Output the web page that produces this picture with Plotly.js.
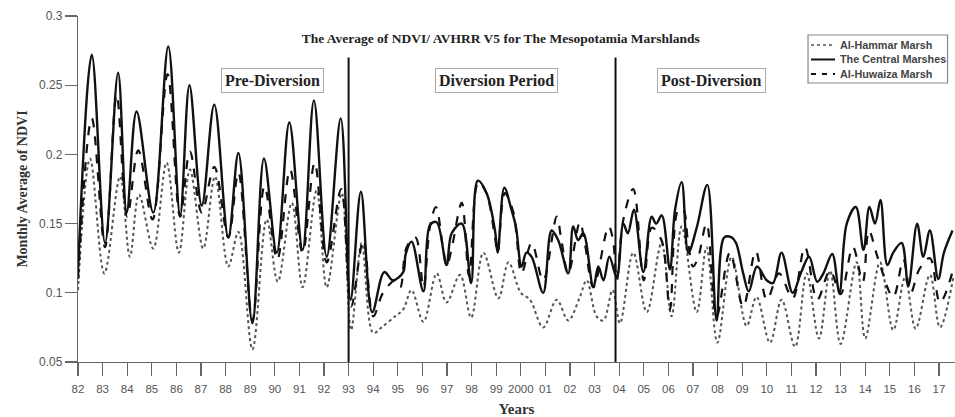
<!DOCTYPE html>
<html>
<head>
<meta charset="utf-8">
<script src="https://cdn.plot.ly/plotly-3.0.1.min.js"></script>
<style>html,body{margin:0;padding:0;background:#fff;}#chart{width:955px;height:417px;}</style>
</head>
<body>
<div id="chart"></div>
<script>
// ---- data (decimal years, monthly average NDVI) ----
const hammarX = [1982.0,1982.49,1983.07,1983.71,1984.11,1984.48,1985.06,1985.60,1986.10,1986.55,1987.09,1987.57,1988.11,1988.52,1989.09,1989.67,1990.12,1990.69,1991.13,1991.70,1992.11,1992.72,1993.10,1993.53,1994.00,1994.34,1994.89,1995.22,1995.56,1996.04,1996.58,1996.98,1997.53,1997.98,1998.48,1999.09,1999.50,2000.00,2000.37,2000.91,2001.46,2001.93,2002.40,2002.68,2003.08,2003.36,2003.73,2004.03,2004.57,2005.12,2005.72,2006.13,2006.54,2007.15,2007.55,2007.99,2008.57,2009.18,2009.58,2010.13,2010.60,2011.15,2011.62,2012.12,2012.57,2013.00,2013.65,2014.00,2014.60,2015.14,2015.62,2016.05,2016.63,2017.04,2017.58];
const hammarY = [0.102,0.197,0.114,0.184,0.126,0.171,0.132,0.194,0.129,0.189,0.132,0.184,0.119,0.144,0.059,0.153,0.108,0.165,0.104,0.174,0.104,0.172,0.073,0.136,0.071,0.075,0.083,0.088,0.102,0.079,0.114,0.093,0.113,0.082,0.129,0.096,0.122,0.100,0.095,0.075,0.095,0.080,0.097,0.109,0.083,0.080,0.102,0.078,0.129,0.086,0.136,0.083,0.148,0.086,0.133,0.064,0.126,0.076,0.097,0.064,0.095,0.061,0.114,0.067,0.116,0.063,0.122,0.067,0.122,0.073,0.111,0.074,0.113,0.075,0.111];

const centralX = [1982.0,1982.56,1983.10,1983.63,1983.98,1984.38,1985.06,1985.67,1986.15,1986.53,1987.03,1987.54,1988.11,1988.52,1989.09,1989.56,1990.08,1990.59,1991.13,1991.59,1992.11,1992.68,1993.08,1993.50,1993.96,1994.45,1994.80,1995.22,1995.32,1995.56,1996.04,1996.31,1996.58,1996.98,1997.19,1997.60,1997.98,1998.25,1998.61,1998.95,1999.06,1999.33,1999.62,1999.80,2000.03,2000.23,2000.44,2000.91,2001.25,2001.52,2001.93,2002.13,2002.33,2002.54,2002.95,2003.15,2003.36,2003.60,2003.90,2004.17,2004.35,2004.60,2004.98,2005.32,2005.50,2005.73,2006.06,2006.27,2006.54,2006.81,2007.15,2007.58,2007.96,2008.27,2008.57,2008.75,2009.04,2009.27,2009.60,2010.00,2010.25,2010.60,2011.05,2011.40,2011.72,2012.05,2012.30,2012.66,2012.95,2013.25,2013.62,2013.93,2014.17,2014.40,2014.62,2014.90,2015.14,2015.48,2015.75,2016.11,2016.36,2016.63,2016.97,2017.20,2017.55];
const centralY = [0.115,0.272,0.136,0.259,0.158,0.231,0.158,0.278,0.156,0.250,0.163,0.236,0.140,0.201,0.078,0.197,0.129,0.223,0.131,0.239,0.126,0.226,0.095,0.173,0.086,0.115,0.109,0.115,0.128,0.137,0.101,0.149,0.151,0.120,0.143,0.150,0.107,0.181,0.172,0.145,0.129,0.176,0.160,0.148,0.119,0.129,0.126,0.100,0.145,0.138,0.114,0.148,0.138,0.143,0.104,0.119,0.109,0.126,0.111,0.150,0.143,0.160,0.115,0.155,0.150,0.156,0.117,0.160,0.180,0.129,0.147,0.178,0.080,0.140,0.140,0.136,0.114,0.101,0.119,0.109,0.107,0.129,0.100,0.115,0.126,0.108,0.114,0.128,0.100,0.150,0.162,0.131,0.162,0.150,0.167,0.120,0.129,0.136,0.105,0.150,0.126,0.145,0.110,0.129,0.145];

const huwaizaX = [1982.0,1982.56,1983.10,1983.57,1984.00,1984.45,1985.03,1985.64,1986.15,1986.55,1987.03,1987.54,1988.11,1988.52,1989.09,1989.58,1990.10,1990.62,1991.13,1991.62,1992.11,1992.70,1993.10,1993.60,1994.00,1994.40,1994.90,1995.10,1995.36,1995.72,1996.04,1996.31,1996.55,1996.85,1997.00,1997.20,1997.60,1997.90,1998.27,1998.60,1998.95,1999.06,1999.35,1999.70,1999.82,2000.03,2000.44,2000.91,2001.46,2001.65,2001.93,2002.40,2002.60,2002.95,2003.57,2003.75,2003.90,2004.17,2004.57,2005.00,2005.32,2005.72,2006.06,2006.40,2006.60,2006.80,2007.00,2007.20,2007.55,2007.96,2008.50,2009.04,2009.55,2010.00,2010.50,2011.05,2011.55,2012.05,2012.57,2013.00,2013.50,2013.90,2014.15,2014.50,2015.14,2015.55,2015.85,2016.20,2016.63,2017.04,2017.58];
const huwaizaY = [0.110,0.226,0.133,0.243,0.155,0.203,0.153,0.258,0.155,0.202,0.158,0.191,0.140,0.187,0.080,0.177,0.124,0.189,0.129,0.194,0.122,0.175,0.090,0.138,0.083,0.100,0.109,0.104,0.133,0.140,0.104,0.148,0.162,0.131,0.120,0.133,0.165,0.112,0.180,0.172,0.140,0.129,0.172,0.158,0.143,0.114,0.136,0.109,0.155,0.138,0.114,0.151,0.136,0.104,0.148,0.138,0.109,0.153,0.175,0.109,0.147,0.138,0.088,0.160,0.160,0.136,0.119,0.125,0.150,0.083,0.129,0.090,0.130,0.095,0.114,0.096,0.133,0.095,0.116,0.099,0.133,0.108,0.145,0.126,0.097,0.124,0.100,0.117,0.125,0.093,0.117];

const seriesNames = ["Al-Hammar Marsh", "The Central Marshes", "Al-Huwaiza Marsh"];
const tickYears = [];
for (let y = 1982; y <= 2017; y++) tickYears.push(y);
const tickLabels = ["82","83","84","85","86","87","88","89","90","91","92","93","94","95","96","97","98","99","2000","01","02","03","04","05","06","07","08","09","10","11","12","13","14","15","16","17"];
const periodBounds = [1993, 2003.85];
const periodLabels = ["Pre-Diversion", "Diversion Period", "Post-Diversion"];

const serif = "Liberation Serif, Times New Roman, serif";
const sans = "Liberation Sans, Arial, sans-serif";

const lineStyles = [
  {color: "#555", width: 2, dash: "dot"},
  {color: "#111", width: 2.4, dash: "solid"},
  {color: "#111", width: 2.2, dash: "dash"}
];
const xs = [hammarX, centralX, huwaizaX];
const ys = [hammarY, centralY, huwaizaY];

const traces = seriesNames.map((n, i) => ({
  x: xs[i], y: ys[i], name: n, mode: "lines", showlegend: false,
  line: Object.assign({shape: "spline", smoothing: 1}, lineStyles[i])
}));

const shapes = periodBounds.map(b => ({
  type: "line", xref: "x", yref: "paper", x0: b, x1: b, y0: 0, y1: 0.88,
  line: {color: "#111", width: 2}
}));

// manual legend (compact, like the reference)
shapes.push({type: "rect", xref: "paper", yref: "paper", x0: 0.8324, x1: 0.9915, y0: 0.8064, y1: 0.9451,
             line: {color: "#888", width: 1.2}, fillcolor: "#fff", layer: "above"});
const legRowY = [0.9162, 0.8743, 0.8324];
const legLineStyles = [
  {color: "#555", width: 1.6, dash: "dot"},
  {color: "#111", width: 2, dash: "solid"},
  {color: "#111", width: 1.8, dash: "5px,6px"}
];
seriesNames.forEach((n, i) => {
  shapes.push({type: "line", xref: "paper", yref: "paper", x0: 0.8358, x1: 0.8632,
               y0: legRowY[i], y1: legRowY[i], line: legLineStyles[i], layer: "above"});
});

const labelPos = [0.2223, 0.4777, 0.7229];
const annotations = periodLabels.map((t, i) => ({
  text: "<b>" + t + "</b>", xref: "paper", yref: "paper", x: labelPos[i], y: 0.815,
  xanchor: "center", yanchor: "middle",
  showarrow: false, font: {family: serif, size: 16, color: "#222"},
  bordercolor: "#aaa", borderwidth: 1, borderpad: 3, bgcolor: "rgba(255,255,255,0)"
}));
seriesNames.forEach((n, i) => {
  annotations.push({text: "<b>" + n + "</b>", xref: "paper", yref: "paper", x: 0.8666, y: legRowY[i],
    xanchor: "left", yanchor: "middle", showarrow: false,
    font: {family: sans, size: 10.8, color: "#444"}});
});

const layout = {
  width: 955, height: 417,
  margin: {l: 78, r: 0, t: 16, b: 55},
  paper_bgcolor: "#fff", plot_bgcolor: "#fff",
  showlegend: false,
  title: {text: "<b>The Average of NDVI/ AVHRR V5 for The Mesopotamia Marshlands</b>",
          font: {family: serif, size: 13.5, color: "#222"},
          xref: "paper", x: 0.482, xanchor: "center", yref: "container", y: 0.909, yanchor: "middle"},
  xaxis: {range: [1982, 2017.65], tickvals: tickYears, ticktext: tickLabels,
          showgrid: false, zeroline: false, showline: true, linecolor: "#666", linewidth: 1.2,
          ticks: "outside", ticklen: 13, tickcolor: "#666", tickwidth: 1.2, ticklabelstandoff: 3,
          tickfont: {family: sans, size: 11.5, color: "#555"}, tickangle: 0,
          title: {text: "<b>Years</b>", font: {family: serif, size: 15, color: "#333"}, standoff: 10}},
  yaxis: {range: [0.05, 0.3], dtick: 0.05, tick0: 0.05,
          showgrid: false, zeroline: false, showline: true, linecolor: "#666", linewidth: 1.2,
          ticks: "outside", ticklen: 12, tickcolor: "#666", tickwidth: 1.2,
          tickfont: {family: sans, size: 12, color: "#555"},
          title: {text: "<b>Monthly Average of NDVI</b>", font: {family: serif, size: 14, color: "#333"}, standoff: 8}},
  shapes: shapes,
  annotations: annotations
};

Plotly.newPlot("chart", traces, layout, {displayModeBar: false, staticPlot: true});
</script>
</body>
</html>
